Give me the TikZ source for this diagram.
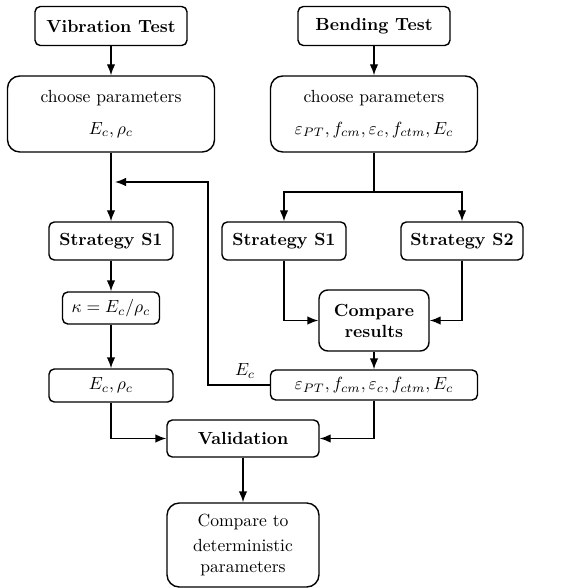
\documentclass[tikz,border=0pt]{standalone}
\usetikzlibrary{arrows.meta}
\begin{document}
\begin{tikzpicture}[>={Latex[length=2.2mm,width=1.7mm]}, thick,
    box/.style={draw, rounded corners=3pt, align=center, inner sep=2pt},
    bigbox/.style={draw, rounded corners=7pt, align=center, inner sep=2pt}]
                \useasboundingbox (0,0) rectangle (11.42,-11.76);
                % Vibration branch
                \node[box, minimum width=3.04cm, minimum height=0.78cm] (vib) at (2.22,-0.52) {\textbf{Vibration Test}};
                \node[bigbox, minimum width=4.14cm, minimum height=1.52cm] (chooseL) at (2.22,-2.28) {choose parameters\\[6pt] $E_c, \rho_c$};
                \node[box, minimum width=2.48cm, minimum height=0.76cm] (stratL) at (2.22,-4.82) {\textbf{Strategy S1}};
                \node[box, minimum width=1.94cm, minimum height=0.64cm] (kappa) at (2.22,-6.16) {$\kappa = E_c/\rho_c$};
                \node[box, minimum width=2.48cm, minimum height=0.66cm] (resL) at (2.22,-7.71) {$E_c, \rho_c$};
                % Bending branch
                \node[box, minimum width=3.04cm, minimum height=0.78cm] (bend) at (7.48,-0.52) {\textbf{Bending Test}};
                \node[bigbox, minimum width=4.14cm, minimum height=1.52cm] (chooseR) at (7.48,-2.28) {choose parameters\\[6pt] $\varepsilon_{PT}, f_{cm}, \varepsilon_c, f_{ctm}, E_c$};
                \node[box, minimum width=2.48cm, minimum height=0.76cm] (stratRa) at (5.68,-4.82) {\textbf{Strategy S1}};
                \node[box, minimum width=2.44cm, minimum height=0.76cm] (stratRb) at (9.24,-4.82) {\textbf{Strategy S2}};
                \node[bigbox, minimum width=2.2cm, minimum height=1.22cm, rounded corners=5pt] (comp) at (7.48,-6.41) {\textbf{Compare}\\ \textbf{results}};
                \node[box, minimum width=4.14cm, minimum height=0.6cm] (resR) at (7.48,-7.70) {$\varepsilon_{PT}, f_{cm}, \varepsilon_c, f_{ctm}, E_c$};
                % Validation
                \node[box, minimum width=3.04cm, minimum height=0.74cm] (valid) at (4.86,-8.77) {\textbf{Validation}};
                \node[bigbox, minimum width=3.04cm, minimum height=1.68cm] (det) at (4.86,-10.9) {Compare to\\[2pt] deterministic\\ parameters};
                % Helper points
                \coordinate (split) at (7.48,-3.84);
                \coordinate (back) at (4.16,-3.64);
                \coordinate (join) at (2.30,-3.64);
                % Arrows left
                \draw[->] (vib) -- (chooseL);
                \draw[->] (chooseL) -- (stratL);
                \draw[->] (stratL) -- (kappa);
                \draw[->] (kappa) -- (resL);
                \draw[->] (resL.south) |- (valid.west);
                % Arrows right
                \draw[->] (bend) -- (chooseR);
                \draw[] (chooseR.south) -- (split);
                \draw[->] (split) -| (stratRa.north);
                \draw[->] (split) -| (stratRb.north);
                \draw[->] (stratRa.south) |- (comp.west);
                \draw[->] (stratRb.south) |- (comp.east);
                \draw[->] (comp) -- (resR);
                \draw[->] (resR.south) |- (valid.east);
                % Feedback of E_c
                \draw[->] (resR.west) -| node[pos=0.2, above] {$E_c$} (back) -- (join);
                \draw[->] (valid) -- (det);
              \end{tikzpicture}
\end{document}
